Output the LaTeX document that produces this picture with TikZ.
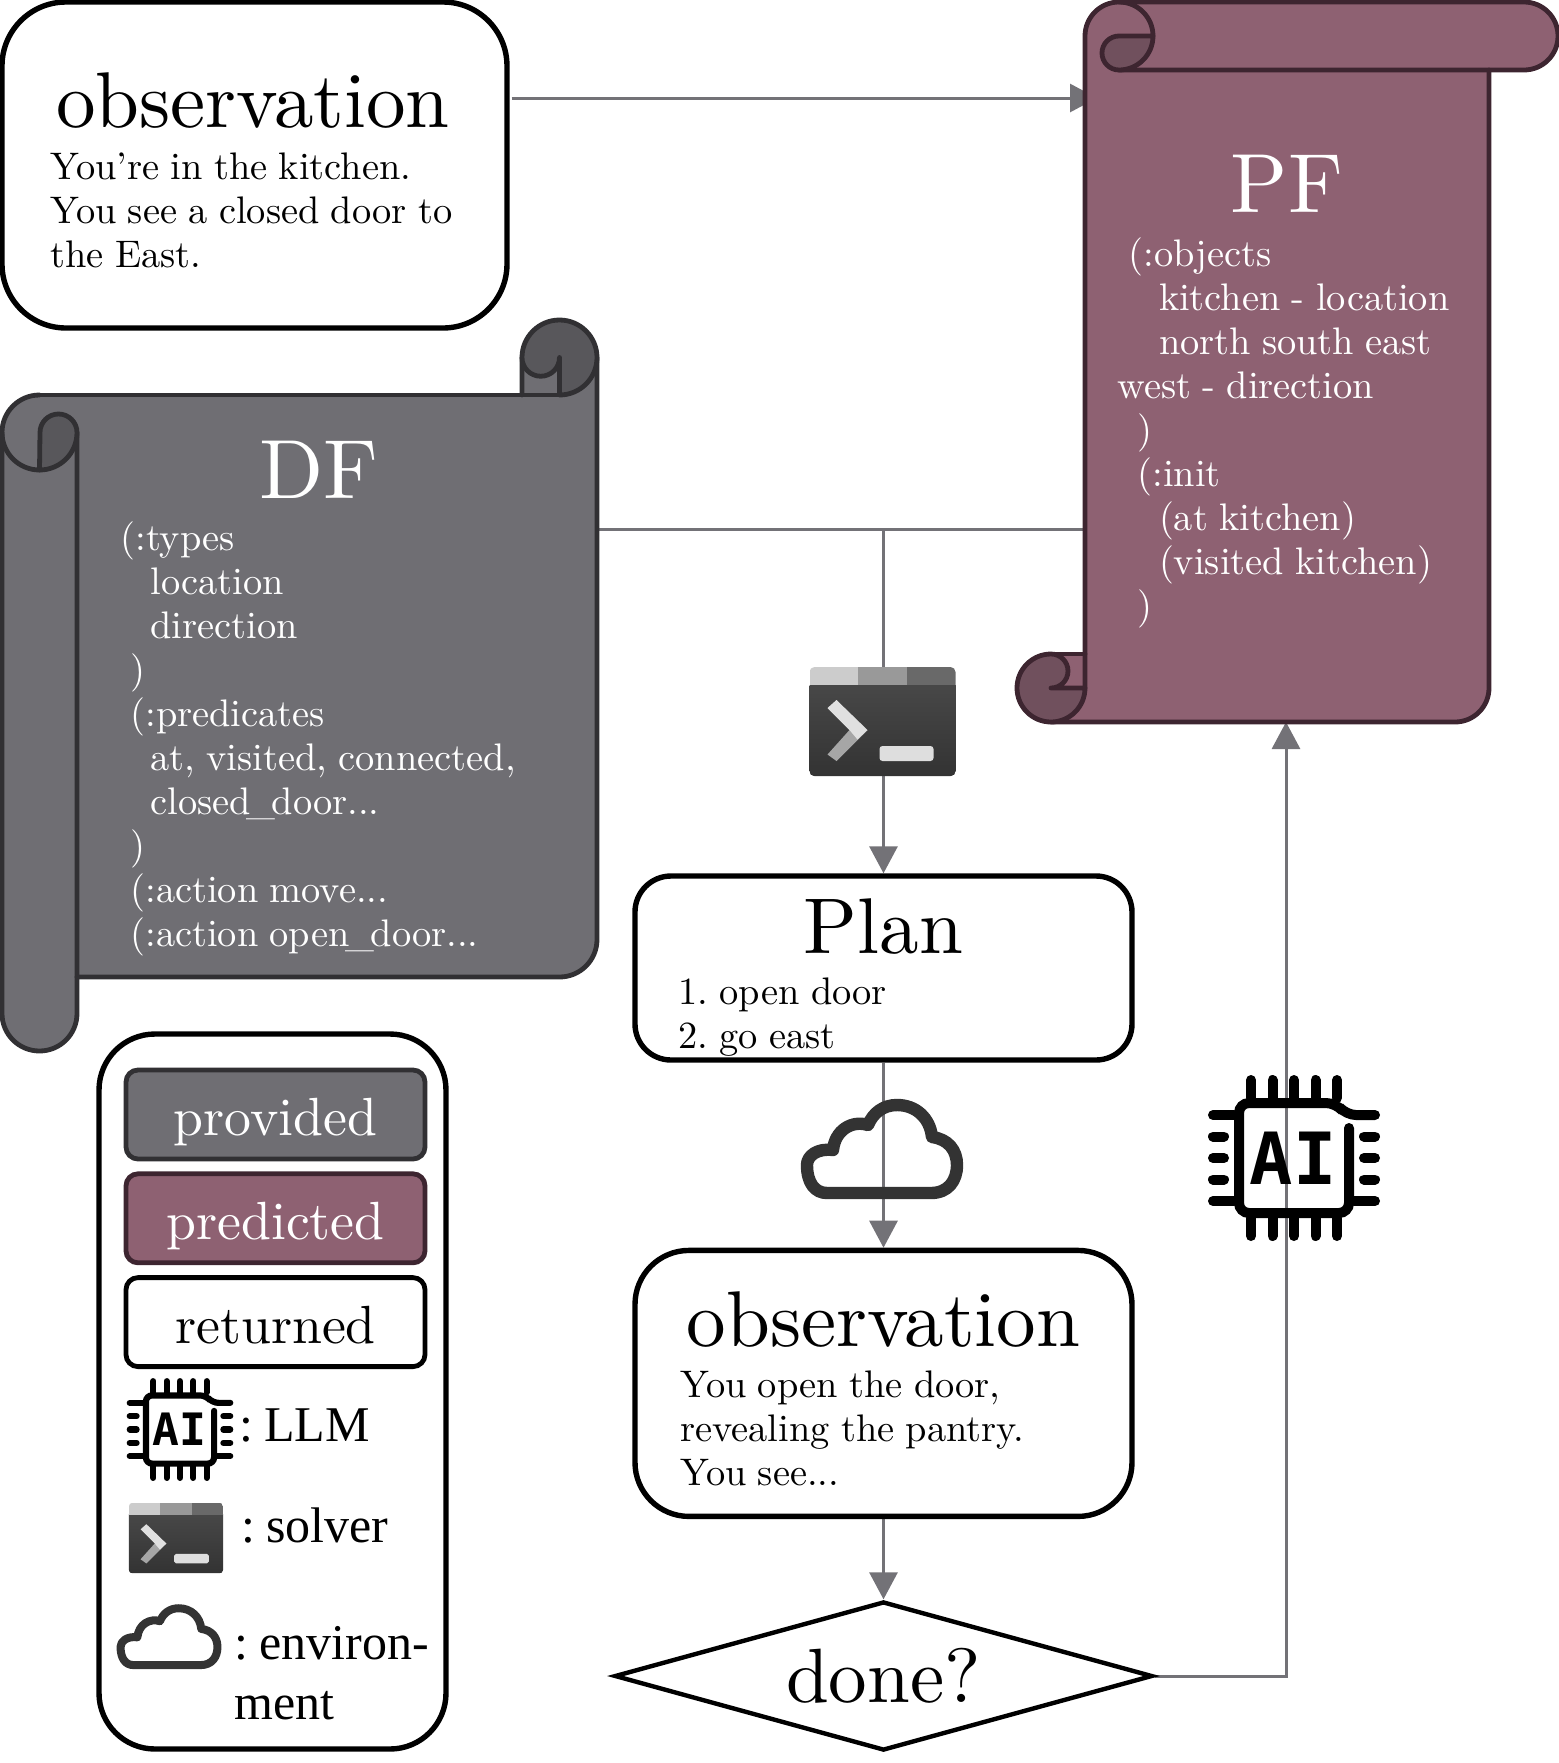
\documentclass[tikz,border=0pt]{standalone}
\usepackage{fontspec}
\usetikzlibrary{arrows.meta,positioning,shapes.geometric,backgrounds}
\setmainfont{lmroman10-regular.otf}[WordSpace=0.89]
\newfontfamily\chipfont{DejaVu Sans Mono}
\newfontfamily\keyfont{Liberation Serif}
\newcommand{\bigtext}{\fontsize{39.5}{46}\selectfont}
\newcommand{\scrolltext}{\fontsize{42}{46}\selectfont}
\newcommand{\smalltext}{\fontsize{19.2}{22}\selectfont}
\newcommand{\legendtext}{\fontsize{26.9}{31}\selectfont}
\newcommand{\itemtext}{\keyfont\fontsize{25}{30}\selectfont}
\newcommand{\tightbar}{\kern-2pt\_\kern-2pt}
\frenchspacing
\definecolor{provfill}{HTML}{6F6E73}
\definecolor{provedge}{HTML}{313033}
\definecolor{provdark}{HTML}{58575B}
\definecolor{predfill}{HTML}{8E6172}
\definecolor{prededge}{HTML}{3D2530}
\definecolor{preddark}{HTML}{70505D}
\definecolor{arrowgray}{HTML}{737277}
\tikzset{
  pics/chipicon/.style={code={
    \begin{scope}[scale=#1, line width=#1*5pt, line cap=round, black]
      \draw[rounded corners=#1*5pt] (55,-30) -- (55,55) -- (-55,55) -- (-55,-55) -- (42,-55) -- (52,-43) -- (81,-43);
      \foreach \p in {-43,-21.5,0,21.5,43} {
        \draw (\p,-78) -- (\p,-60);
        \draw (\p,78) -- (\p,60);
      }
      \foreach \p in {-21.5,0,21.5} {
        \draw (-81,\p) -- (-70,\p);
        \draw (81,\p) -- (70,\p);
      }
      \draw (-81,-43) -- (-60,-43);
      \draw (-81,43) -- (-60,43);
      \draw (81,43) -- (60,43);
      \node[transform shape, inner sep=0pt, font=\chipfont\bfseries\fontsize{36}{36}\selectfont] (chipname) at (-1,0) {AI};
    \end{scope}
  }},
  pics/solvericon/.style={code={
    \begin{scope}[scale=#1]
      \begin{scope}
        \clip[rounded corners=#1*2.5pt] (-73,-54.5) rectangle (73,54.5);
        \fill[top color=black!72, bottom color=black!80] (-73,-36.5) rectangle (73,54.5);
        \fill[black!20] (-73,-54.5) rectangle (-24.3,-36.5);
        \fill[black!40] (-24.3,-54.5) rectangle (24.3,-36.5);
        \fill[black!59] (24.3,-54.5) rectangle (73,-36.5);
      \end{scope}
      \fill[black!35] (-15,8.5) -- (-46,39.5) -- (-55,33) -- (-33,8.5) -- cycle;
      \fill[black!12] (-46,-21.5) -- (-55,-13.5) -- (-33,8.5) -- (-25,18) -- (-15,8.5) -- cycle;
      \fill[black!13, rounded corners=#1*1.5pt] (-3,24.5) rectangle (51,39.5);
    \end{scope}
  }},
  pics/cloudicon/.style={code={
    \begin{scope}[scale=#1]
      \draw[line width=#1*6.2pt, black!80, line join=round]
        (-55,45) -- (49,45)
        .. controls (66,45) and (75,33) .. (75,17)
        .. controls (75,2) and (66,-9) .. (50,-11)
        .. controls (48,-30) and (34,-43) .. (15,-43)
        .. controls (1,-43) and (-9,-35) .. (-14,-23)
        .. controls (-30,-28) and (-47,-18) .. (-49,2)
        .. controls (-65,0) and (-75,8) .. (-75,17)
        .. controls (-75,35) and (-67,45) .. (-55,45) -- cycle;
    \end{scope}
  }}
}
\begin{document}
\begin{tikzpicture}[
    x=0.5pt, y=-0.5pt,
    >={Triangle[length=13.5pt,width=14pt]},
    box/.style = {draw, fill=white, rounded corners=#1, line width=2.7pt, inner sep=0pt},
    keybox/.style = {draw=#1, rounded corners=6pt, line width=2.4pt, minimum width=149.5pt, minimum height=44.5pt, inner sep=0pt, font=\legendtext, text height=21pt, text depth=0pt},
    blank/.style = {inner sep=0pt, outer sep=0pt},
    title/.style = {inner sep=0pt, anchor=base, font=\bigtext},
    lines/.style = {inner sep=0pt, anchor=north west, align=left, font=\smalltext},
    flow/.style = {arrowgray, line width=1.5pt},
    edgepv/.style = {draw=provedge, line width=2.4pt, line join=round, line cap=round},
    edgepd/.style = {draw=prededge, line width=2.4pt, line join=round, line cap=round}
]
\useasboundingbox (0,0) rectangle (1559,1763);

% Observation
\node[box=32pt, minimum width=252.5pt, minimum height=163pt] (obsA) at (254.5,165) {};
\node[title] (obsAname) at (253,127) {observation};
\node[lines] (obsAtext) at (50,152) {You're in the kitchen.\\You see a closed door to\\the East.};

% DF
\node[blank, minimum width=297.5pt, minimum height=291pt] (df) at (299.5,686) {};
\fill[provfill] (2,432.5) arc[start angle=180, end angle=270, radius=37.5] -- (522,395) -- (522,357.5)
  arc[start angle=180, end angle=360, radius=37.5] -- (597,939.5) arc[start angle=0, end angle=90, radius=37.5]
  -- (77,977) -- (77,1013.5) arc[start angle=0, end angle=180, radius=37.5] -- cycle;
\draw[edgepv] (522,395) -- (522,357.5) (597,357.5) -- (597,939.5) arc[start angle=0, end angle=90, radius=37.5] -- (77,977);
\draw[edgepv] (39.5,395) -- (559.5,395);
\draw[edgepv] (39.5,395) arc[start angle=270, end angle=90, radius=37.5];
\draw[edgepv] (2,432.5) -- (2,1013.5) arc[start angle=180, end angle=0, radius=37.5] -- (77,432.5);
\draw[edgepv, fill=provdark] (40,432.5) arc[start angle=180, end angle=360, radius=18.5] arc[start angle=0, end angle=90, radius=37.5] -- cycle;
\draw[edgepv, fill=provdark] (522,357.5) arc[start angle=180, end angle=360, radius=37.5] arc[start angle=0, end angle=90, radius=37.5]
  -- (559.5,357.5) arc[start angle=0, end angle=180, radius=18.75] -- cycle;
\node[title, text=white, font=\scrolltext] (dfname) at (319,498) {DF};
\node[lines, text=white] (dftext) at (120,521) {(:types\\\hspace*{15pt}location\\\hspace*{15pt}direction\\\hspace*{5pt})\\\hspace*{5pt}(:predicates\\\hspace*{15pt}at, visited, connected,\\\hspace*{15pt}closed\tightbar door...\\\hspace*{5pt})\\\hspace*{5pt}(:action move...\\\hspace*{5pt}(:action open\tightbar door...};

% PF
\node[blank, minimum width=202pt, minimum height=360pt] (pf) at (1286,362) {};
\fill[predfill] (1085,36) arc[start angle=180, end angle=270, radius=34] -- (1524,2) arc[start angle=270, end angle=450, radius=34]
  -- (1489,70) -- (1489,688) arc[start angle=0, end angle=90, radius=34] -- (1051,722)
  arc[start angle=90, end angle=270, radius=34] -- (1085,654) -- cycle;
\draw[edgepd] (1085,688) -- (1085,36) arc[start angle=180, end angle=360, radius=34];
\draw[edgepd] (1119,2) -- (1524,2) arc[start angle=270, end angle=450, radius=34] -- (1119,70);
\draw[edgepd] (1489,70) -- (1489,688) arc[start angle=0, end angle=90, radius=34] -- (1051,722);
\draw[edgepd] (1051,654) -- (1085,654);
\draw[edgepd, fill=preddark] (1119,36) -- (1153,36) arc[start angle=0, end angle=90, radius=34] arc[start angle=90, end angle=270, radius=17];
\draw[edgepd, fill=preddark] (1051,654) arc[start angle=270, end angle=450, radius=17] -- (1085,688)
  arc[start angle=0, end angle=270, radius=34] -- cycle;
\node[title, text=white, font=\scrolltext] (pfname) at (1287,212) {PF};
\node[lines, text=white] (pftext) at (1117,237) {\hspace*{5.6pt}(:objects\\\hspace*{20.8pt}kitchen - location\\\hspace*{20.8pt}north south east\\west - direction\\\hspace*{10pt})\\\hspace*{10pt}(:init\\\hspace*{20.8pt}(at kitchen)\\\hspace*{20.8pt}(visited kitchen)\\\hspace*{10pt})};

% Plan
\node[box=18pt, minimum width=248.5pt, minimum height=92pt] (plan) at (883.5,968) {};
\node[title] (planname) at (883.5,953) {Plan};
\node[lines] (plantext) at (678,977) {1. open door\\2. go east};

% Next observation and check
\node[box=27pt, minimum width=248.5pt, minimum height=133pt] (obsB) [below=92.5pt of plan] {};
\node[title] (obsBname) at (883.5,1346) {observation};
\node[lines] (obsBtext) at (680,1370) {You open the door,\\revealing the pantry.\\You see...};
\node[diamond, draw, fill=white, line width=2.2pt, minimum width=269pt, minimum height=74.5pt, aspect=3.6, inner sep=0pt, font=\fontsize{38.5}{46}\selectfont] (done) at (883.5,1676) {done?};

% Icons
\node[blank, minimum width=73pt, minimum height=54.5pt] (solver) at (883.5,721.5) {};
\pic at (882.5,721.5) {solvericon=1};
\pic at (882,1148) {cloudicon=1};
\pic at (1294,1158) {chipicon=1};

% Legend
\node[box=28pt, minimum width=173.5pt, minimum height=357.5pt] (legend) at (272.5,1391.5) {};
\node[keybox=provedge, fill=provfill, text=white] (keyprov) at (275.5,1114.5) {provided};
\node[keybox=prededge, fill=predfill, text=white] (keypred) [below=5pt of keyprov] {predicted};
\node[keybox=black, fill=white] (keyret) [below=5pt of keypred] {returned};
\pic at (180,1429.5) {chipicon=.62};
\pic at (176,1538) {solvericon=.644};
\pic at (169,1636) {cloudicon=.646};
\node[inner sep=0pt, anchor=base west, font=\itemtext] (keyllm) at (239,1441) {:\hspace{5.5pt}LLM};
\node[inner sep=0pt, anchor=base west, font=\itemtext] (keysolver) at (241,1542) {:\hspace{5.5pt}solver};
\node[inner sep=0pt, anchor=north west, align=left, font=\itemtext] (keyenv) at (234,1626) {:\hspace{5.5pt}environ-\\ment};

% Edges
\coordinate (pfin) at (1097,98);
\coordinate (join) at (plan |- 0,529);
\begin{scope}[on background layer]
\draw[flow, ->] ([xshift=1pt]obsA.east |- pfin) -- (pfin);
\draw[flow] (df.east |- join) -- (pf.west |- join);
\draw[flow] (join) -- (solver);
\draw[flow, ->] (solver) -- (plan);
\draw[flow, ->] (plan) -- (obsB);
\draw[flow, ->] (obsB) -- (done);
\draw[flow, ->] (done) -| (pf.south);
\end{scope}

\end{tikzpicture}
\end{document}
